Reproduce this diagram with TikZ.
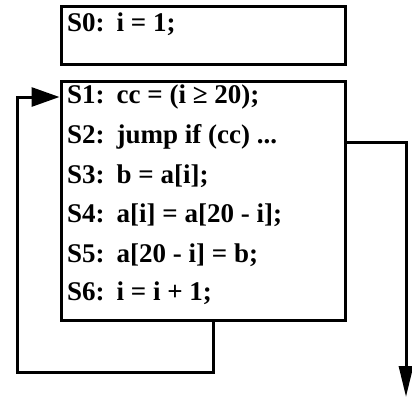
\documentclass[tikz,border=0pt]{standalone}
\usepackage{fontspec}
\setmainfont{Liberation Serif}
\usetikzlibrary{arrows.meta}
\newcommand{\gapafter}{\hspace{12pt}}
\begin{document}
\begin{tikzpicture}[x=1pt,y=-1pt,
  box/.style={draw,line width=3pt,inner sep=0pt},
  code/.style={anchor=west,inner sep=0pt,font=\fontsize{27}{27}\selectfont\bfseries},
  wire/.style={line width=3pt}]
\useasboundingbox (0,0) rectangle (412,397);
\node[box,minimum width=284pt,minimum height=58pt] (b0) at (203,35) {};
\node[box,minimum width=284pt,minimum height=239pt] (b1) at (203,200.5) {};
\node[code] (s0) at (67,24) {S0:\gapafter i = 1;};
\node[code] (s1) at (67,97) {S1:\gapafter cc = (i ≥ 20);};
\node[code] (s2) at (67,137) {S2:\gapafter jump if (cc) ...};
\node[code] (s3) at (67,176) {S3:\gapafter b = a[i];};
\node[code] (s4) at (67,215) {S4:\gapafter a[i] = a[20 - i];};
\node[code] (s5) at (67,255) {S5:\gapafter a[20 - i] = b;};
\node[code] (s6) at (67,293) {S6:\gapafter i = i + 1;};
\coordinate (c1) at (213,320);
\coordinate (c2) at (17,372);
\coordinate (c3) at (406,397);
\draw[wire,-{Triangle[length=28pt,width=19pt]}] (c1) |- (c2) |- (b1.west |- s1.west);
\draw[wire,-{Triangle[length=31pt,width=14pt]}] (b1.east |- 0,142) -| (c3);
\end{tikzpicture}
\end{document}
